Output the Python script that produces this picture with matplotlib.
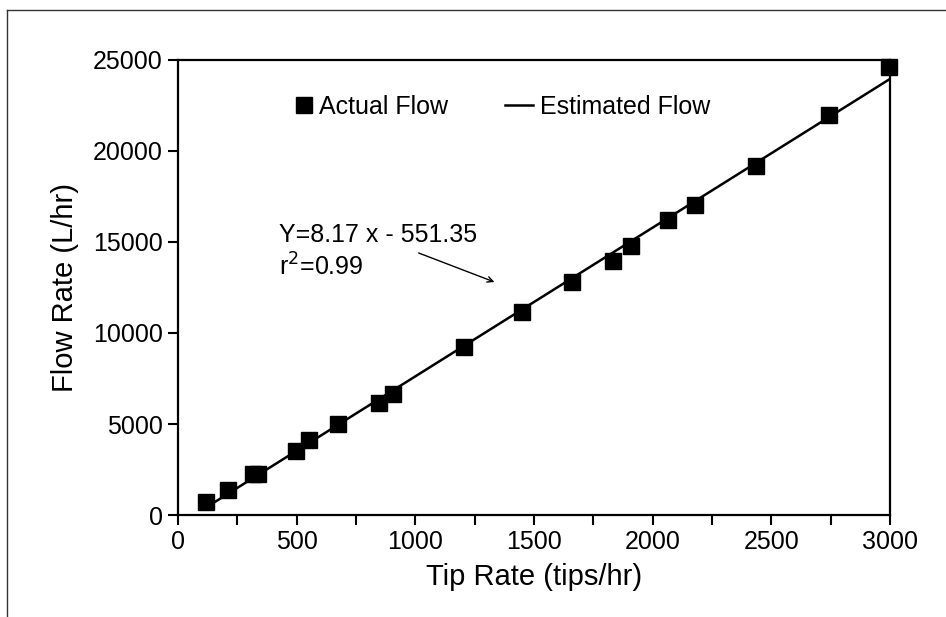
import matplotlib
matplotlib.use("Agg")
import matplotlib.pyplot as plt
from matplotlib.lines import Line2D
from matplotlib.ticker import MultipleLocator
from matplotlib.legend_handler import HandlerLine2D

plt.rcParams['font.family'] = ['Liberation Sans', 'DejaVu Sans']

# Data
tip_rate = [118, 211, 314, 335, 498, 553, 675, 848, 907, 1207, 1451, 1662,
            1831, 1907, 2063, 2177, 2436, 2743, 2996]
flow_rate = [714, 1374, 2280, 2280, 3516, 4120, 5000, 6154, 6648, 9230, 11154,
             12800, 13956, 14780, 16200, 17033, 19176, 21978, 24615]
slope = 8.17
intercept = -551.35
fit_x = [118, 3000]
fit_y = [slope * v + intercept for v in fit_x]

x_ticks = [0, 500, 1000, 1500, 2000, 2500, 3000]
y_ticks = [0, 5000, 10000, 15000, 20000, 25000]


class RightMarkerHandler(HandlerLine2D):
    """Places the single legend marker close to the label text."""
    def get_xdata(self, legend, xdescent, ydescent, width, height, fontsize):
        m = -xdescent + width - 5.5
        return [m - 1.0, m + 1.0], [m]


fig = plt.figure(figsize=(9.46, 6.17), dpi=100)
ax = fig.add_axes([0.1882, 0.1653, 0.9408 - 0.1882, 0.9028 - 0.1653])

pts, = ax.plot(tip_rate, flow_rate, linestyle='none', marker='s', markersize=11,
               color='black', label='Actual Flow', zorder=3, clip_on=False)
fit, = ax.plot(fit_x, fit_y, color='black', linewidth=1.8, label='Estimated Flow', zorder=2)

ax.set_xlim(0, 3000)
ax.set_ylim(0, 25000)
ax.set_xticks(x_ticks)
ax.set_yticks(y_ticks)
ax.xaxis.set_minor_locator(MultipleLocator(250))
ax.tick_params(axis='both', which='both', direction='out', length=7, width=1.5,
               labelsize=18, pad=4)
for s in ax.spines.values():
    s.set_linewidth(1.6)

ax.set_xlabel('Tip Rate (tips/hr)', fontsize=21, labelpad=6)
ax.set_ylabel('Flow Rate (L/hr)', fontsize=21, labelpad=10)

ax.legend(handles=[pts, fit], loc='upper left', bbox_to_anchor=(0.149, 0.924), ncol=2,
          frameon=False, fontsize=18, handlelength=1.1, handletextpad=0.28,
          columnspacing=2.3, borderaxespad=0, borderpad=0,
          handler_map={pts: RightMarkerHandler(numpoints=1)})

ax.text(426, 15385, 'Y=8.17 x - 551.35', fontsize=18, va='center', ha='left')
ax.text(426, 13626, 'r$^2$=0.99', fontsize=18, va='center', ha='left')
ax.annotate('', xy=(1344, 12747), xytext=(1003, 14450),
            arrowprops=dict(arrowstyle='->', color='black', lw=1.0))

# outer frame (left and top)
fig.add_artist(Line2D([0.007, 0.007], [0, 1 - 10 / 617], transform=fig.transFigure,
                      color='#333333', linewidth=1.0))
fig.add_artist(Line2D([0.007, 1], [1 - 10 / 617, 1 - 10 / 617], transform=fig.transFigure,
                      color='#333333', linewidth=1.0))

fig.savefig('out.png', dpi=100)
